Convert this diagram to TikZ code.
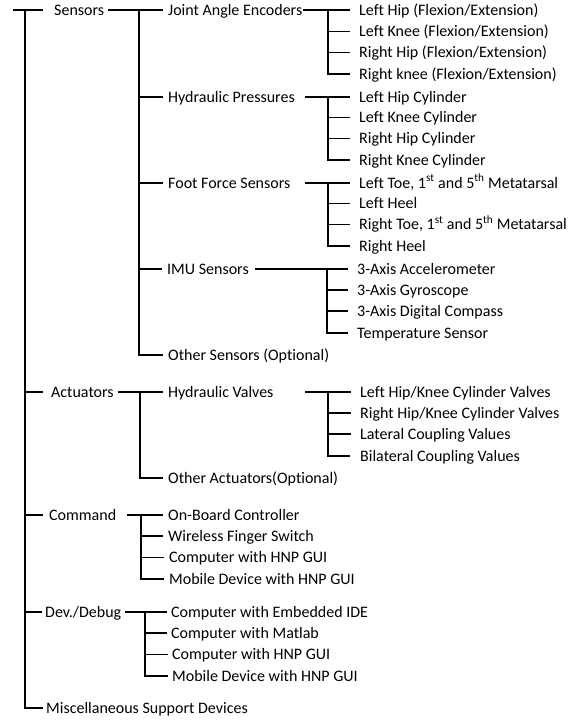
\documentclass[tikz,border=0pt]{standalone}
\usepackage{fontspec}
\setmainfont{Carlito}[Ligatures={NoCommon,NoRare}]
\usepackage{tikz}

\begin{document}
\begin{tikzpicture}[x=1pt,y=1pt,yscale=-1,xscale=1,
  lbl/.style={anchor=west,inner sep=0pt,text height=10.3pt,text depth=0pt,font=\fontsize{16}{19}\selectfont},
  wire/.style={line width=1.1pt},
  bus/.style={line width=1.5pt},
  stub/.style={wire,shorten >=5pt},
  stubb/.style={wire,shorten >=9pt}]
\useasboundingbox (0,0) rectangle (579,720);

%Top level labels
\node[lbl] (sens) at (54,10) {Sensors};
\node[lbl] (act) at (51,392) {Actuators};
\node[lbl] (cmd) at (49,515) {Command};
\node[lbl] (dev) at (45,612) {Dev./Debug};
\node[lbl] (misc) at (46,708) {Miscellaneous Support Devices};

%Trunk
\coordinate (root) at (13,10);
\coordinate (trunk) at (25,10);
\draw[wire] (root) -- ([xshift=-11pt]sens.west);
\draw[bus] (trunk) |- ([xshift=-3pt]misc.west);
\draw[wire] (trunk |- act.west) -- ([xshift=-8pt]act.west);
\draw[wire] (trunk |- cmd.west) -- ([xshift=-6pt]cmd.west);
\draw[wire] (trunk |- dev.west) -- ([xshift=-3pt]dev.west);

%Sensors
\node[lbl] (jae) at (168,10) {Joint Angle Encoders};
\node[lbl] (hp) at (168,97) {Hydraulic Pressures};
\node[lbl] (ffs) at (168,183) {Foot Force Sensors};
\node[lbl] (imu) at (167,269) {IMU Sensors};
\node[lbl] (osens) at (168,355) {Other Sensors (Optional)};
\coordinate (sens-o) at (108,10);
\coordinate (sens-b) at (139,10);
\draw[stub] (sens-o) -- (jae.west);
\draw[bus] (sens-b) |- ([xshift=-5pt]osens.west);
\foreach \c in {hp,ffs,imu}
  \draw[stub] (sens-b |- \c.west) -- (\c.west);

%Joint Angle Encoders
\node[lbl] (jae1) at (359,10) {Left Hip (Flexion/Extension)};
\node[lbl] (jae2) at (359,31.5) {Left Knee (Flexion/Extension)};
\node[lbl] (jae3) at (359,52.5) {Right Hip (Flexion/Extension)};
\node[lbl] (jae4) at (359,74) {Right knee (Flexion/Extension)};
\coordinate (jae-b) at (328,10);
\draw[stubb] (jae.east) -- (jae1.west);
\draw[bus] (jae-b) |- ([xshift=-9pt]jae4.west);
\foreach \c in {jae2,jae3}
  \draw[stubb] (jae-b |- \c.west) -- (\c.west);

%Hydraulic Pressures
\node[lbl] (hp1) at (359,97) {Left Hip Cylinder};
\node[lbl] (hp2) at (359,117.5) {Left Knee Cylinder};
\node[lbl] (hp3) at (359,138.5) {Right Hip Cylinder};
\node[lbl] (hp4) at (359,160) {Right Knee Cylinder};
\coordinate (hp-o) at (305,97);
\coordinate (hp-b) at (328,97);
\draw[stubb] (hp-o) -- (hp1.west);
\draw[bus] (hp-b) |- ([xshift=-9pt]hp4.west);
\foreach \c in {hp2,hp3}
  \draw[stubb] (hp-b |- \c.west) -- (\c.west);

%Foot Force Sensors
\node[lbl] (ffs1) at (359,183) {Left Toe, 1\textsuperscript{st} and 5\textsuperscript{th} Metatarsal};
\node[lbl] (ffs2) at (359,203.5) {Left Heel};
\node[lbl] (ffs3) at (359,224.5) {Right Toe, 1\textsuperscript{st} and 5\textsuperscript{th} Metatarsal};
\node[lbl] (ffs4) at (359,246) {Right Heel};
\coordinate (ffs-o) at (305,183);
\coordinate (ffs-b) at (328,183);
\draw[stubb] (ffs-o) -- (ffs1.west);
\draw[bus] (ffs-b) |- ([xshift=-9pt]ffs4.west);
\foreach \c in {ffs2,ffs3}
  \draw[stubb] (ffs-b |- \c.west) -- (\c.west);

%IMU Sensors
\node[lbl] (imu1) at (357,269) {3-Axis Accelerometer};
\node[lbl] (imu2) at (357,290) {3-Axis Gyroscope};
\node[lbl] (imu3) at (357,311) {3-Axis Digital Compass};
\node[lbl] (imu4) at (357,333) {Temperature Sensor};
\coordinate (imu-o) at (255,269);
\coordinate (imu-b) at (327,269);
\draw[stubb] (imu-o) -- (imu1.west);
\draw[bus] (imu-b) |- ([xshift=-9pt]imu4.west);
\foreach \c in {imu2,imu3}
  \draw[stubb] (imu-b |- \c.west) -- (\c.west);

%Actuators
\node[lbl] (hv) at (168,392) {Hydraulic Valves};
\node[lbl] (oact) at (168,478) {Other Actuators(Optional)};
\coordinate (act-o) at (118,392);
\coordinate (act-b) at (140,392);
\draw[stub] (act-o) -- (hv.west);
\draw[bus] (act-b) |- ([xshift=-5pt]oact.west);

%Hydraulic Valves
\node[lbl] (hv1) at (360,392) {Left Hip/Knee Cylinder Valves};
\node[lbl] (hv2) at (360,413) {Right Hip/Knee Cylinder Valves};
\node[lbl] (hv3) at (360,434) {Lateral Coupling Values};
\node[lbl] (hv4) at (360,456) {Bilateral Coupling Values};
\coordinate (hv-o) at (305,392);
\coordinate (hv-b) at (328,392);
\draw[stubb] (hv-o) -- (hv1.west);
\draw[bus] (hv-b) |- ([xshift=-10pt]hv4.west);
\foreach \c in {hv2,hv3}
  \draw[stubb] (hv-b |- \c.west) -- (\c.west);

%Command
\node[lbl] (cmd1) at (168,515) {On-Board Controller};
\node[lbl] (cmd2) at (168,536) {Wireless Finger Switch};
\node[lbl] (cmd3) at (169,557.5) {Computer with HNP GUI};
\node[lbl] (cmd4) at (169,579) {Mobile Device with HNP GUI};
\coordinate (cmd-o) at (127,515);
\coordinate (cmd-b) at (141,515);
\draw[stub] (cmd-o) -- (cmd1.west);
\draw[bus] (cmd-b) |- ([xshift=-5pt]cmd4.west);
\foreach \c in {cmd2,cmd3}
  \draw[stub] (cmd-b |- \c.west) -- (\c.west);

%Dev./Debug
\node[lbl] (dev1) at (171,612) {Computer with Embedded IDE};
\node[lbl] (dev2) at (171,633) {Computer with Matlab};
\node[lbl] (dev3) at (172,654.5) {Computer with HNP GUI};
\node[lbl] (dev4) at (172,676) {Mobile Device with HNP GUI};
\coordinate (dev-o) at (125,612);
\coordinate (dev-b) at (145,612);
\draw[wire,shorten >=4pt] (dev-o) -- (dev1.west);
\draw[bus] (dev-b) |- ([xshift=-4pt]dev4.west);
\foreach \c in {dev2,dev3}
  \draw[wire,shorten >=4pt] (dev-b |- \c.west) -- (\c.west);
\end{tikzpicture}
\end{document}
